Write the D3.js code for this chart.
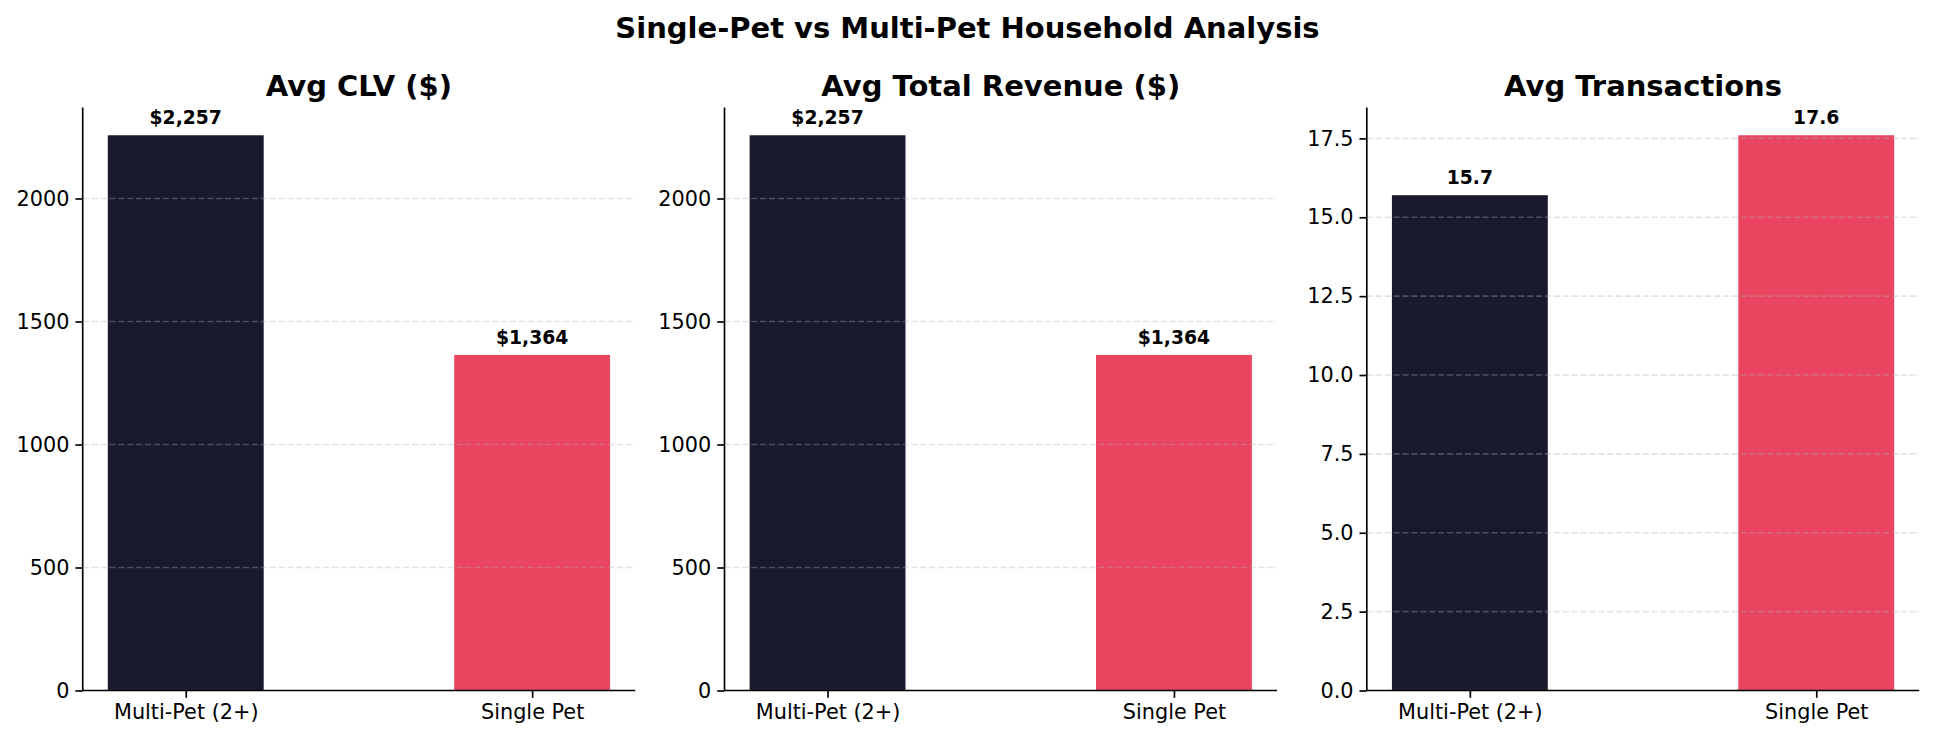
<!DOCTYPE html>
<html>
<head>
<meta charset="utf-8">
<script src="https://cdn.jsdelivr.net/npm/d3@7"></script>
<style>
  body { margin: 0; background: #fff; }
  text { font-family: "DejaVu Sans", sans-serif; }
</style>
</head>
<body>
<div id="chart"></div>
<script>
// data
const categories = ["Multi-Pet (2+)", "Single Pet"];
const avgClv = [2257, 1364];
const avgRevenue = [2257, 1364];
const avgTransactions = [15.7, 17.6];
const panelTitles = ["Avg CLV ($)", "Avg Total Revenue ($)", "Avg Transactions"];
const dollarTicks = [0, 500, 1000, 1500, 2000];
const txTicks = [0, 2.5, 5, 7.5, 10, 12.5, 15, 17.5];
const barColors = ["#1a1a2e", "#e94560"];

const width = 1935, height = 741;
const panelW = 552.5, plotTop = 107.5, plotBottom = 690.5;
const lefts = [82.7, 724.5, 1366.8];

const svg = d3.select("#chart").append("svg")
  .attr("width", width)
  .attr("height", height);

svg.append("text")
  .attr("x", width / 2)
  .attr("y", 38)
  .attr("text-anchor", "middle")
  .attr("font-size", "29px")
  .attr("font-weight", "bold")
  .text("Single-Pet vs Multi-Pet Household Analysis");

const panels = [
  { values: avgClv, ticks: dollarTicks, tickFmt: d3.format("d"), labelFmt: v => "$" + d3.format(",")(v) },
  { values: avgRevenue, ticks: dollarTicks, tickFmt: d3.format("d"), labelFmt: v => "$" + d3.format(",")(v) },
  { values: avgTransactions, ticks: txTicks, tickFmt: d3.format(".1f"), labelFmt: d3.format(".1f") }
];

panels.forEach((p, k) => {
  const left = lefts[k];
  const g = svg.append("g");

  const x = d3.scaleLinear()
    .domain([-0.2975, 1.2975])
    .range([left, left + panelW]);

  const y = d3.scaleLinear()
    .domain([0, d3.max(p.values) * 1.05])
    .range([plotBottom, plotTop]);

  // barres
  g.selectAll("rect")
    .data(p.values)
    .join("rect")
    .attr("x", (d, i) => x(i - 0.225))
    .attr("width", (d, i) => x(i + 0.225) - x(i - 0.225))
    .attr("y", d => y(d))
    .attr("height", d => plotBottom - y(d))
    .attr("fill", (d, i) => barColors[i]);

  // grille (au-dessus des barres, comme matplotlib)
  g.selectAll(".grid")
    .data(p.ticks)
    .join("line")
    .attr("class", "grid")
    .attr("x1", left)
    .attr("x2", left + panelW)
    .attr("y1", d => y(d))
    .attr("y2", d => y(d))
    .attr("stroke", "#b0b0b0")
    .attr("stroke-opacity", 0.35)
    .attr("stroke-width", 1.67)
    .attr("stroke-dasharray", "6.2,2.7");

  // axes
  const yAxis = g.append("g")
    .attr("transform", `translate(${left},0)`)
    .call(d3.axisLeft(y).tickValues(p.ticks).tickFormat(p.tickFmt).tickSize(7.3).tickPadding(6));
  const xAxis = g.append("g")
    .attr("transform", `translate(0,${plotBottom})`)
    .call(d3.axisBottom(x).tickValues([0, 1]).tickFormat(i => categories[i]).tickSize(7.3).tickPadding(6));

  [yAxis, xAxis].forEach(a => {
    a.select(".domain").attr("stroke", "#000").attr("stroke-width", 1.67);
    a.selectAll(".tick line").attr("stroke", "#000").attr("stroke-width", 1.67);
    a.selectAll(".tick text").attr("font-size", "20.8px").attr("fill", "#000")
      .attr("font-family", "DejaVu Sans, sans-serif");
  });
  // spines sans petits bouts
  yAxis.select(".domain").attr("d", `M0,${plotBottom}V${plotTop}`);
  xAxis.select(".domain").attr("d", `M${left},0H${left + panelW}`);

  // étiquettes de valeur
  g.selectAll(".val")
    .data(p.values)
    .join("text")
    .attr("class", "val")
    .attr("x", (d, i) => x(i))
    .attr("y", d => y(d) - 11)
    .attr("text-anchor", "middle")
    .attr("font-size", "18.75px")
    .attr("font-weight", "bold")
    .text(d => p.labelFmt(d));

  // titre
  g.append("text")
    .attr("x", left + panelW / 2)
    .attr("y", 95.5)
    .attr("text-anchor", "middle")
    .attr("font-size", "29px")
    .attr("font-weight", "bold")
    .text(panelTitles[k]);
});
</script>
</body>
</html>
